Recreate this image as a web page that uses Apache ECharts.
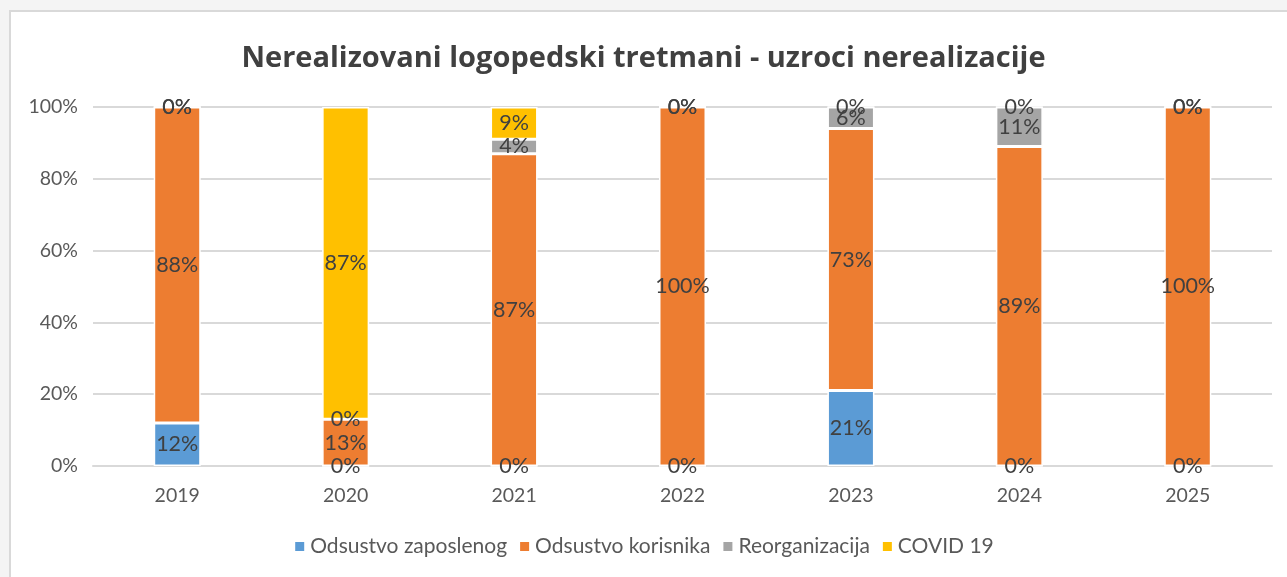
<!DOCTYPE html>
<html>
<head>
<meta charset="utf-8">
<script src="https://cdn.jsdelivr.net/npm/echarts@6/dist/echarts.min.js"></script>
<style>
html,body{margin:0;padding:0;background:#f4f4f4;width:1287px;height:577px;overflow:hidden;}
#frame{position:absolute;left:9px;top:10px;width:1290px;height:580px;background:#fff;border-left:2px solid #d9d9d9;border-top:2px solid #d9d9d9;}
#chart{position:absolute;left:0;top:0;width:1287px;height:577px;}
</style>
</head>
<body>
<div id="frame"></div>
<div id="chart"></div>
<script>
const categories = ['2019','2020','2021','2022','2023','2024','2025'];
const seriesNames = ['Odsustvo zaposlenog','Odsustvo korisnika','Reorganizacija','COVID 19'];
const zaposlenog = [12, 0, 0, 0, 21, 0, 0];
const korisnika  = [88, 13, 87, 100, 73, 89, 100];
const reorganizacija = [0, 0, 4, 0, 6, 11, 0];
const covid = [0, 87, 9, 0, 0, 0, 0];
const yTicks = [0, 20, 40, 60, 80, 100];
const colors = ['#5B9BD5','#ED7D31','#A5A5A5','#FFC000'];

const chart = echarts.init(document.getElementById('chart'), null, {renderer:'canvas'});
const font = 'Lato, "Open Sans", sans-serif';
function mk(name, data, i){
  return {
    name: name, type:'bar', stack:'s', data: data, barWidth: 47,
    itemStyle:{color: colors[i], borderColor:'#fff', borderWidth:1.5},
    label:{show:true, position:'inside', formatter: p => p.value + '%',
      color:'#404040', fontSize:21.5, fontFamily:font},
    emphasis:{disabled:true}
  };
}
chart.setOption({
  animation:false,
  title:{text:'Nerealizovani logopedski tretmani - uzroci nerealizacije', left:'center', top:39,
    textStyle:{fontSize:29, fontWeight:'bold', color:'#404040', fontFamily:'"Open Sans", Lato, sans-serif'}},
  grid:{left:93, right:15, top:107, bottom:111, containLabel:false},
  legend:{bottom:15, left:'center', itemWidth:11, itemHeight:11, itemGap:11, icon:'rect',
    textStyle:{fontSize:21, color:'#595959', fontFamily:font}, data: seriesNames},
  xAxis:{type:'category', data: categories,
    axisLine:{show:true, lineStyle:{color:'#d9d9d9', width:2}}, axisTick:{show:false},
    axisLabel:{fontSize:19.5, color:'#595959', fontFamily:font, margin:20}},
  yAxis:{type:'value', min:0, max:100, interval:20,
    axisLabel:{formatter: v => v + '%', fontSize:19.5, color:'#595959', fontFamily:font, margin:15},
    splitLine:{lineStyle:{color:'#d9d9d9', width:2}}, axisLine:{show:false}, axisTick:{show:false}},
  series:[mk(seriesNames[0], zaposlenog, 0), mk(seriesNames[1], korisnika, 1), mk(seriesNames[2], reorganizacija, 2), mk(seriesNames[3], covid, 3)]
});
</script>
</body>
</html>
